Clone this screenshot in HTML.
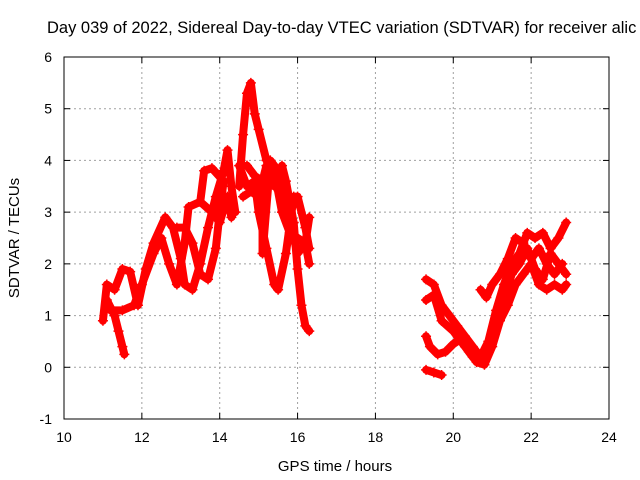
<!DOCTYPE html>
<html><head><meta charset="utf-8"><style>
body{margin:0;background:#fff;overflow:hidden}
svg{display:block;font-family:"Liberation Sans",sans-serif}
</style></head><body>
<svg id="chart" width="640" height="480" viewBox="0 0 640 480">
<text x="47" y="33" font-size="16.5" fill="#000">Day 039 of 2022, Sidereal Day-to-day VTEC variation (SDTVAR) for receiver alic</text>
<g id="grid"></g>
<g id="series"></g>
<rect x="64" y="57" width="545" height="362" fill="none" stroke="#000" stroke-width="1"/>
<g id="ticks"></g>
<text x="335" y="471" font-size="15" text-anchor="middle">GPS time / hours</text>
<text transform="translate(19,238) rotate(-90)" font-size="15" text-anchor="middle">SDTVAR / TECUs</text>
</svg>
<script>
const xTicks=[10,12,14,16,18,20,22,24];
const yTicks=[-1,0,1,2,3,4,5,6];
const t1=[[11.0,0.9],[11.1,1.6],[11.3,1.5],[11.5,1.9],[11.7,1.85],[11.9,1.2],[12.1,1.9],[12.3,2.4],[12.6,2.9],[12.8,2.7],[13.0,2.1],[13.1,1.6],[13.3,1.5],[13.5,2.0],[13.7,2.7],[13.9,3.3],[14.1,3.8],[14.2,4.2],[14.3,3.5],[14.4,3.0]];
const t2=[[11.1,1.3],[11.3,1.0],[11.4,0.7],[11.5,0.4],[11.55,0.25]];
const t3=[[11.2,1.1],[11.5,1.1],[11.8,1.2],[12.0,1.6],[12.3,2.2],[12.5,2.5],[12.7,2.0],[12.9,1.6],[13.1,2.4],[13.2,3.1],[13.5,3.2],[13.8,3.0],[14.0,2.8],[14.2,3.3],[14.3,2.9]];
const t4=[[12.9,2.7],[13.1,2.7],[13.3,2.4],[13.5,1.8],[13.7,1.7],[13.9,2.3],[14.0,3.0],[14.1,3.6],[13.8,3.85],[13.6,3.8],[13.5,3.2]];
const t5=[[14.5,3.5],[14.6,4.5],[14.7,5.3],[14.8,5.5],[14.9,4.9],[15.0,4.6],[15.2,4.0],[15.4,3.8],[15.6,3.0],[15.8,2.6],[16.0,2.5],[16.2,2.4],[16.3,2.0]];
const t6=[[14.5,3.9],[14.7,3.5],[14.9,3.6],[15.0,3.0],[15.2,2.3],[15.4,1.6],[15.5,1.5],[15.7,2.2],[15.9,3.3],[16.0,3.3],[16.2,2.7],[16.3,2.3]];
const t7=[[14.6,3.3],[14.8,3.4],[15.0,3.3],[15.2,3.9],[15.4,3.5],[15.6,3.9],[15.7,3.6],[15.9,2.8],[16.0,1.9],[16.1,1.2],[16.2,0.8],[16.3,0.7]];
const t8=[[14.7,3.9],[14.9,3.7],[15.1,3.6],[15.1,2.2],[15.3,4.0],[15.5,3.8],[15.7,3.4],[15.8,2.8],[16.0,2.2],[16.2,2.4],[16.3,2.9]];
const s1=[[19.3,1.7],[19.5,1.6],[19.7,1.2],[19.9,1.0],[20.1,0.8],[20.3,0.6],[20.5,0.4],[20.7,0.2],[20.9,0.5],[21.1,1.1],[21.3,1.6],[21.5,2.0],[21.7,2.2],[21.9,2.6],[22.1,2.5],[22.3,2.6],[22.5,2.3],[22.7,2.5],[22.9,2.8]];
const s2=[[19.3,1.3],[19.5,1.4],[19.7,0.9],[20.0,0.7],[20.3,0.4],[20.5,0.2],[20.7,0.1],[20.9,0.3],[21.1,0.8],[21.3,1.3],[21.5,1.8],[21.7,2.0],[21.9,2.3],[22.1,1.9],[22.3,1.7],[22.5,2.2],[22.7,2.0],[22.9,1.8]];
const s3=[[19.3,0.6],[19.4,0.4],[19.6,0.25],[19.8,0.3],[20.0,0.45],[20.2,0.55],[20.4,0.3],[20.6,0.1],[20.8,0.05],[21.0,0.4],[21.2,0.9],[21.4,1.2],[21.6,1.6],[21.8,1.8],[22.0,2.0],[22.2,1.6],[22.4,1.5],[22.6,1.6],[22.8,1.5],[22.9,1.6]];
const s4=[[19.3,-0.05],[19.5,-0.1],[19.7,-0.15]];
const s5=[[20.7,1.5],[20.85,1.35],[21.0,1.6],[21.2,1.8],[21.4,2.1],[21.6,2.5],[21.8,2.4],[22.0,2.1],[22.2,2.3],[22.4,2.0],[22.6,1.8],[22.8,2.0]];
const allSeries=[t1,t2,t3,t4,t5,t6,t7,t8,s1,s2,s3,s4,s5];

const NS="http://www.w3.org/2000/svg";
const X0=64,X1=609,Y0=419,Y1=57;
const xs=t=>X0+(t-10)/(24-10)*(X1-X0);
const ys=v=>Y0-(v+1)/(6+1)*(Y0-Y1);
function mk(tag,attrs,parent){const e=document.createElementNS(NS,tag);for(const k in attrs)e.setAttribute(k,attrs[k]);parent.appendChild(e);return e;}
const grid=document.getElementById('grid'),ticks=document.getElementById('ticks'),ser=document.getElementById('series');
xTicks.forEach(t=>{
  const x=xs(t);
  if(t>10&&t<24){const g=mk('line',{x1:x,x2:x,y1:Y1,y2:Y0,stroke:'#a0a0a0','stroke-dasharray':'2,3'},grid);
  
  }
  mk('line',{x1:x,x2:x,y1:Y0,y2:Y0-6,stroke:'#000'},ticks);
  mk('line',{x1:x,x2:x,y1:Y1,y2:Y1+6,stroke:'#000'},ticks);
  const l=mk('text',{x:x,y:442,'font-size':14,'text-anchor':'middle'},ticks);l.textContent=t;
  
  
});
yTicks.forEach(v=>{
  const y=ys(v);
  if(v>-1&&v<6){const g=mk('line',{x1:X0,x2:X1,y1:y,y2:y,stroke:'#a0a0a0','stroke-dasharray':'2,3'},grid);
  
  }
  mk('line',{x1:X0,x2:X0+6,y1:y,y2:y,stroke:'#000'},ticks);
  mk('line',{x1:X1,x2:X1-6,y1:y,y2:y,stroke:'#000'},ticks);
  const l=mk('text',{x:52,y:y+5,'font-size':14,'text-anchor':'end'},ticks);l.textContent=v;
  
  
});
allSeries.forEach((s,i)=>{
  const pl=mk('polyline',{points:s.map(p=>xs(p[0])+','+ys(p[1])).join(' '),fill:'none',stroke:'#ff0000','stroke-width':8,'stroke-linejoin':'round','stroke-linecap':'round'},ser);
  
  
  s.forEach(p=>{
    const x=xs(p[0]),y=ys(p[1]);
    const m=mk('path',{d:`M${x-5},${y}h10M${x},${y-5}v10`,stroke:'#ff0000','stroke-width':1.5},ser);
    
    
  });
});
</script>
</body></html>
